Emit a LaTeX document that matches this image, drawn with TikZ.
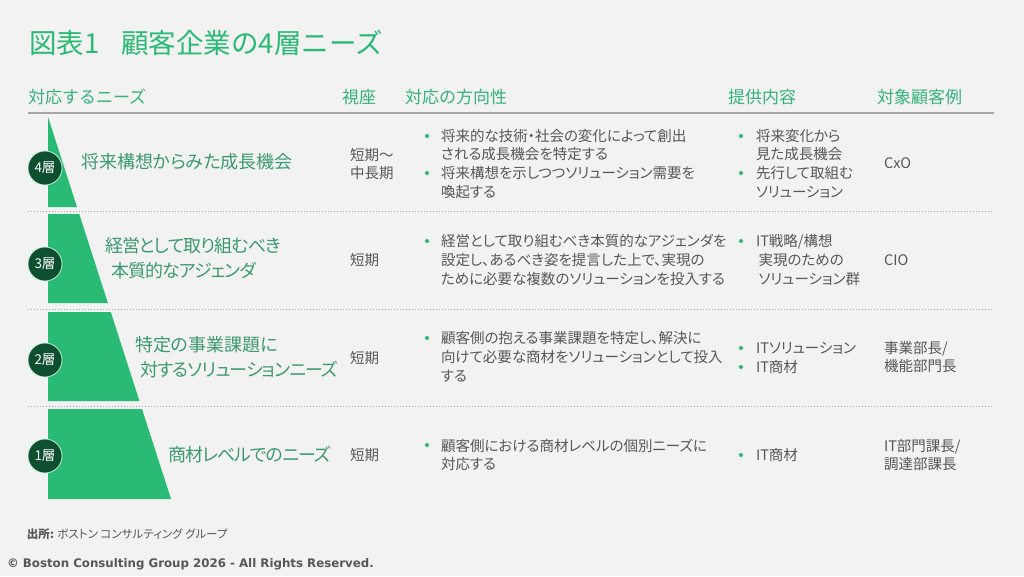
\documentclass[tikz,border=0pt]{standalone}
\usepackage{fontspec}
\setmainfont{Noto Sans CJK JP}
\newfontfamily\propfont{Noto Sans CJK JP}[RawFeature=+palt]
\newfontfamily\tightfont{Noto Sans CJK JP}[RawFeature=+palt, LetterSpace=-5]
\newfontfamily\latinfont{DejaVu Sans}
\usetikzlibrary{positioning,calc}
\definecolor{pagegray}{HTML}{F2F2F2}
\definecolor{bcggreen}{HTML}{29BA74}
\definecolor{headgreen}{HTML}{34B27A}
\definecolor{needgreen}{HTML}{3D9A70}
\definecolor{darkgreen}{HTML}{0D4F2F}
\definecolor{bodygray}{HTML}{575757}
\definecolor{rulegray}{HTML}{A6A6A6}

\begin{document}
\begin{tikzpicture}[x=1pt, y=-1pt,
    every node/.style={inner sep=0pt, outer sep=0pt},
    title/.style={anchor=west, text=bcggreen, font=\fontsize{27.5}{30}\selectfont},
    head/.style={anchor=west, text=headgreen, font=\fontsize{17}{20}\selectfont},
    need/.style={anchor=west, align=left, text=needgreen, font=\propfont\fontsize{18}{25}\selectfont},
    cell/.style={anchor=west, align=left, text=bodygray, font=\propfont\fontsize{14.5}{18.8}\selectfont},
    dot/.style={circle, fill=bcggreen, minimum size=4pt},
    badge/.style={circle, fill=darkgreen, draw=white!70!bcggreen, line width=0.8pt, minimum size=34pt, text=white, font=\propfont\fontsize{13.5}{15}\selectfont}]
  \useasboundingbox[fill=pagegray] (0,0) rectangle (1024,576);

  % title and column heads
  \node[title] (title) at (29,43) {図表1\hspace{22pt}顧客企業の4層ニーズ};
  \node[head] (hneed) at (28,97) {対応するニーズ};
  \node[head] (hview) at (342,97) {視座};
  \node[head] (hdir) at (405,97) {対応の方向性};
  \node[head] (hprov) at (728,97) {提供内容};
  \node[head] (hcust) at (877,97) {対象顧客例};
  \draw[rulegray, line width=1.4pt] (28,113) -- (994,113);
  \foreach \y in {211,309,406} {
    \draw[rulegray, line width=1pt, dotted] (28,\y) -- (994,\y);
  }

  % pyramid bands
  \foreach \t/\b in {117/207,214/303,312/401,409/499} {
    \fill[bcggreen] (48,\t) -- ({48+0.322*(\t-117)},\t) -- ({48+0.322*(\b-117)},\b) -- (48,\b) -- cycle;
  }
  \foreach \n/\y in {4/168,3/264,2/360,1/456} {
    \node[badge] (badge\n) at (45,\y) {{\n}層};
  }

  % 4層
  \node[need] (need4) at (81,162) {将来構想からみた成長機会};
  \node[cell] (view4) at (350,164) {短期～\\中長期};
  \node[dot] (dot4a) at (427,136) {};
  \node[cell] (dir4a) at (441,145) {将来的な技術・社会の変化によって創出\\される成長機会を特定する};
  \node[dot] (dot4b) at (427,173) {};
  \node[cell] (dir4b) at (441,182.5) {将来構想を示しつつソリューション需要を\\喚起する};
  \node[dot] (pdot4a) at (741,136) {};
  \node[cell] (prov4a) at (756,145) {将来変化から\\見た成長機会};
  \node[dot] (pdot4b) at (741,173) {};
  \node[cell] (prov4b) at (756,182.5) {先行して取組む\\ソリューション};
  \node[cell] (cust4) at (884,163) {CxO};

  % 3層
  \node[need] (need3) at (105,258) {\tightfont 経営として取り組むべき\\\hspace*{6pt}\tightfont 本質的なアジェンダ};
  \node[cell] (view3) at (350,260) {短期};
  \node[dot] (dot3a) at (427,241) {};
  \node[cell] (dir3a) at (441,260) {経営として取り組むべき本質的なアジェンダを\\設定し、あるべき姿を提言した上で、実現の\\ために必要な複数のソリューションを投入する};
  \node[dot] (pdot3a) at (741,241) {};
  \node[cell] (prov3a) at (756,260) {IT戦略/構想\\\hspace*{2.5pt}実現のための\\\hspace*{2.5pt}ソリューション群};
  \node[cell] (cust3) at (884,260) {CIO};

  % 2層
  \node[need] (need2) at (135,357) {特定の事業課題に\\\hspace*{5pt}\tightfont 対するソリューションニーズ};
  \node[cell] (view2) at (350,358) {短期};
  \node[dot] (dot2a) at (427,338) {};
  \node[cell] (dir2a) at (441,357) {顧客側の抱える事業課題を特定し、解決に\\向けて必要な商材をソリューションとして投入\\する};
  \node[dot] (pdot2a) at (741,348) {};
  \node[cell] (prov2a) at (756,348) {ITソリューション};
  \node[dot] (pdot2b) at (741,367) {};
  \node[cell] (prov2b) at (756,367) {IT商材};
  \node[cell] (cust2) at (884,357) {事業部長/\\機能部門長};

  % 1層
  \node[need] (need1) at (168,455) {\tightfont 商材レベルでのニーズ};
  \node[cell] (view1) at (350,455) {短期};
  \node[dot] (dot1a) at (427,445) {};
  \node[cell] (dir1a) at (441,455) {顧客側における商材レベルの個別ニーズに\\対応する};
  \node[dot] (pdot1a) at (741,455) {};
  \node[cell] (prov1a) at (756,455) {IT商材};
  \node[cell] (cust1) at (884,455) {IT部門課長/\\調達部課長};

  % footer
  \node[anchor=west, text=bodygray, font=\propfont\fontsize{11.5}{13}\selectfont] (source) at (27,534) {\textbf{出所:} ボストン コンサルティング グループ};
  \node[anchor=west, text=bodygray, font=\latinfont\bfseries\fontsize{11.8}{15}\selectfont] (copy) at (7,564) {© Boston Consulting Group 2026 - All Rights Reserved.};
\end{tikzpicture}
\end{document}
